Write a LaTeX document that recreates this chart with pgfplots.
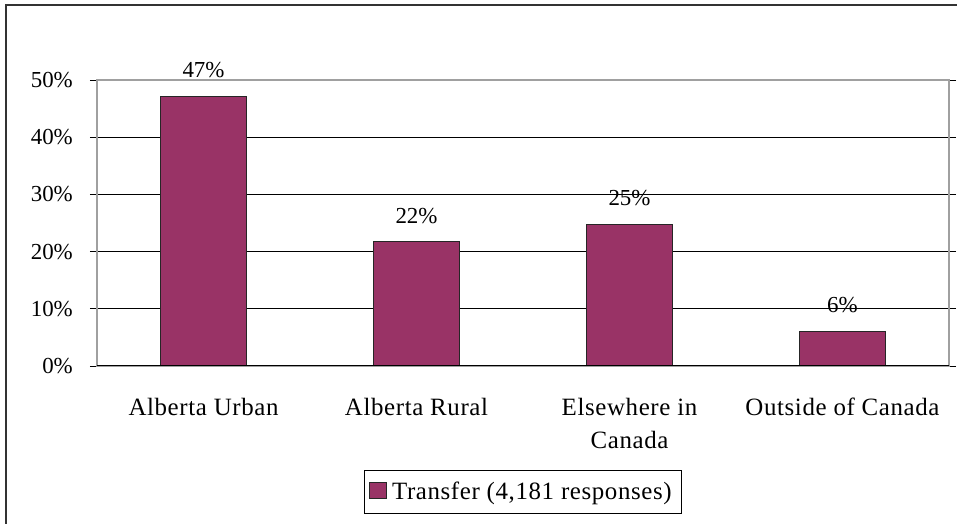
\documentclass[border=0pt]{standalone}
\usepackage{fontspec}
\setmainfont[LetterSpace=2.5]{Liberation Serif}
\newfontfamily\tickfont{Liberation Serif}
\usepackage{pgfplots}
\pgfplotsset{compat=1.18}
\definecolor{barplum}{HTML}{993366}
\definecolor{frame}{HTML}{A0A0A0}

\begin{document}
\begin{tikzpicture}[font=\fontsize{25}{33}\selectfont]
\useasboundingbox (0,0) rectangle (957bp,524bp);
\draw[line width=2bp,draw=black!80] (6bp,0) -- (6bp,519bp) -- (960bp,519bp);
\begin{axis}[
  at={(97bp,158bp)}, anchor=south west,
  scale only axis,
  width=852bp, height=286bp,
  ybar, bar width=86bp,
  xmin=0.5, xmax=4.5,
  ymin=0, ymax=50,
  xtick={1,2,3,4},
  xticklabels={Alberta Urban,Alberta Rural,Elsewhere in\\Canada,Outside of Canada},
  x tick label style={align=center, anchor=north, inner sep=0pt, yshift=-25bp},
  major x tick style={draw=none},
  extra x ticks={0.5,1.5,2.5,3.5,4.5},
  extra x tick labels={},
  extra x tick style={major tick length=6bp, tick style={draw=black}, grid=none},
  ytick={0,10,20,30,40,50},
  yticklabel={\pgfmathprintnumber{\tick}\%},
  y tick label style={anchor=east, inner sep=0pt, xshift=-17bp, font=\tickfont\fontsize{23}{26}\selectfont},
  /pgf/number format/assume math mode=true,
  tick align=outside,
  major tick length=7bp,
  tick style={draw=black, line width=0.8bp},
  ymajorgrids,
  grid style={draw=black, line width=0.9bp},
  axis line style={draw=frame, line width=1.2bp},
  nodes near coords={\pgfmathprintnumber[fixed,precision=0]{\pgfplotspointmeta}\%},
  nodes near coords style={anchor=south, inner sep=0pt, yshift=18bp, text=black, font=\tickfont\fontsize{23}{26}\selectfont},
  legend style={at={(0.5,-0.44)}, anchor=center, draw=black, line width=0.8bp,
    inner xsep=5bp, inner ysep=10bp, font=\fontsize{25}{28}\selectfont,
    nodes={inner xsep=5bp}},
  legend image code/.code={\draw[#1, line width=0.8bp] (0bp,-7bp) rectangle (17bp,9bp);},
]
\addplot[fill=barplum, draw=black!85, line width=1bp] coordinates {
(1,47.1)
(2,21.7)
(3,24.8)
(4,6.0)
};
\addlegendentry{Transfer (4,181 responses)}
\draw[black, line width=1.2bp] (rel axis cs:0,0) -- (rel axis cs:1,0);
\end{axis}
\end{tikzpicture}
\end{document}
